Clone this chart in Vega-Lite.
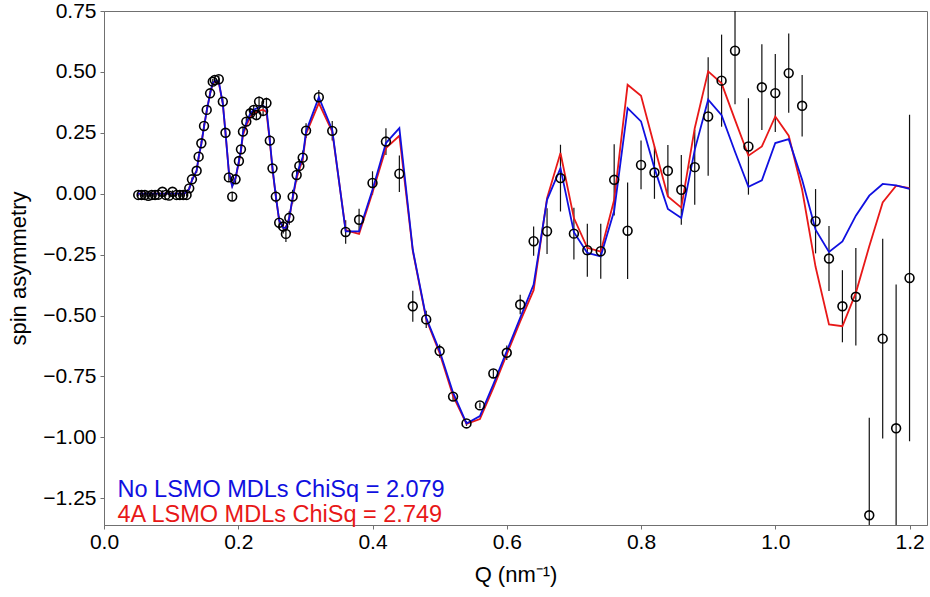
{
  "$schema": "https://vega.github.io/schema/vega-lite/v6.json",
  "width": 823,
  "height": 514,
  "autosize": {"type": "none"},
  "padding": {"left": 104, "top": 11, "right": 3, "bottom": 72},
  "background": "white",
  "config": {
    "font": "Liberation Sans",
    "view": {"stroke": "#707070", "strokeWidth": 1},
    "axis": {"grid": false, "domainColor": "#707070", "tickColor": "#707070", "labelColor": "black", "titleColor": "black", "labelFont": "Liberation Sans", "titleFont": "Liberation Sans", "titleFontWeight": "normal", "labelFontSize": 21, "titleFontSize": 22, "tickSize": 4, "labelFlush": false}
  },
  "datasets": {
    "obs": [
      {"Q": 0.051, "v": -0.005, "err": 0.006},
      {"Q": 0.056, "v": -0.005, "err": 0.006},
      {"Q": 0.061, "v": -0.005, "err": 0.006},
      {"Q": 0.066, "v": -0.009, "err": 0.006},
      {"Q": 0.071, "v": -0.005, "err": 0.006},
      {"Q": 0.076, "v": -0.005, "err": 0.006},
      {"Q": 0.081, "v": -0.004, "err": 0.006},
      {"Q": 0.087, "v": 0.008, "err": 0.006},
      {"Q": 0.092, "v": -0.005, "err": 0.006},
      {"Q": 0.097, "v": -0.008, "err": 0.006},
      {"Q": 0.102, "v": 0.008, "err": 0.006},
      {"Q": 0.108, "v": -0.005, "err": 0.006},
      {"Q": 0.113, "v": -0.005, "err": 0.006},
      {"Q": 0.118, "v": -0.005, "err": 0.006},
      {"Q": 0.123, "v": -0.005, "err": 0.007},
      {"Q": 0.127, "v": 0.022, "err": 0.008},
      {"Q": 0.131, "v": 0.059, "err": 0.008},
      {"Q": 0.138, "v": 0.094, "err": 0.009},
      {"Q": 0.141, "v": 0.152, "err": 0.009},
      {"Q": 0.145, "v": 0.207, "err": 0.01},
      {"Q": 0.149, "v": 0.278, "err": 0.01},
      {"Q": 0.153, "v": 0.344, "err": 0.011},
      {"Q": 0.158, "v": 0.412, "err": 0.012},
      {"Q": 0.162, "v": 0.46, "err": 0.012},
      {"Q": 0.165, "v": 0.467, "err": 0.013},
      {"Q": 0.171, "v": 0.47, "err": 0.014},
      {"Q": 0.177, "v": 0.378, "err": 0.014},
      {"Q": 0.181, "v": 0.25, "err": 0.015},
      {"Q": 0.186, "v": 0.067, "err": 0.016},
      {"Q": 0.191, "v": -0.012, "err": 0.017},
      {"Q": 0.196, "v": 0.059, "err": 0.017},
      {"Q": 0.201, "v": 0.134, "err": 0.018},
      {"Q": 0.204, "v": 0.182, "err": 0.018},
      {"Q": 0.207, "v": 0.255, "err": 0.019},
      {"Q": 0.212, "v": 0.296, "err": 0.019},
      {"Q": 0.218, "v": 0.33, "err": 0.02},
      {"Q": 0.223, "v": 0.344, "err": 0.02},
      {"Q": 0.227, "v": 0.323, "err": 0.021},
      {"Q": 0.231, "v": 0.378, "err": 0.021},
      {"Q": 0.237, "v": 0.34, "err": 0.022},
      {"Q": 0.242, "v": 0.372, "err": 0.022},
      {"Q": 0.247, "v": 0.218, "err": 0.023},
      {"Q": 0.251, "v": 0.104, "err": 0.024},
      {"Q": 0.256, "v": -0.012, "err": 0.025},
      {"Q": 0.261, "v": -0.119, "err": 0.026},
      {"Q": 0.267, "v": -0.135, "err": 0.028},
      {"Q": 0.271, "v": -0.165, "err": 0.033},
      {"Q": 0.276, "v": -0.099, "err": 0.028},
      {"Q": 0.281, "v": -0.012, "err": 0.028},
      {"Q": 0.287, "v": 0.077, "err": 0.028},
      {"Q": 0.291, "v": 0.114, "err": 0.028},
      {"Q": 0.296, "v": 0.148, "err": 0.029},
      {"Q": 0.301, "v": 0.259, "err": 0.03},
      {"Q": 0.32, "v": 0.396, "err": 0.03},
      {"Q": 0.34, "v": 0.258, "err": 0.04},
      {"Q": 0.36, "v": -0.157, "err": 0.048},
      {"Q": 0.38, "v": -0.107, "err": 0.045},
      {"Q": 0.40, "v": 0.044, "err": 0.048},
      {"Q": 0.42, "v": 0.214, "err": 0.055},
      {"Q": 0.44, "v": 0.082, "err": 0.075},
      {"Q": 0.46, "v": -0.462, "err": 0.064},
      {"Q": 0.48, "v": -0.516, "err": 0.035},
      {"Q": 0.50, "v": -0.646, "err": 0.027},
      {"Q": 0.52, "v": -0.833, "err": 0.017},
      {"Q": 0.54, "v": -0.943, "err": 0.01},
      {"Q": 0.56, "v": -0.869, "err": 0.012},
      {"Q": 0.58, "v": -0.738, "err": 0.015},
      {"Q": 0.60, "v": -0.653, "err": 0.03},
      {"Q": 0.62, "v": -0.455, "err": 0.04},
      {"Q": 0.64, "v": -0.195, "err": 0.06},
      {"Q": 0.66, "v": -0.154, "err": 0.094},
      {"Q": 0.68, "v": 0.064, "err": 0.137},
      {"Q": 0.70, "v": -0.164, "err": 0.106},
      {"Q": 0.72, "v": -0.232, "err": 0.109},
      {"Q": 0.74, "v": -0.236, "err": 0.113},
      {"Q": 0.76, "v": 0.057, "err": 0.146},
      {"Q": 0.78, "v": -0.152, "err": 0.198},
      {"Q": 0.80, "v": 0.118, "err": 0.1},
      {"Q": 0.82, "v": 0.087, "err": 0.108},
      {"Q": 0.84, "v": 0.094, "err": 0.106},
      {"Q": 0.86, "v": 0.016, "err": 0.143},
      {"Q": 0.88, "v": 0.109, "err": 0.154},
      {"Q": 0.90, "v": 0.317, "err": 0.243},
      {"Q": 0.92, "v": 0.464, "err": 0.189},
      {"Q": 0.94, "v": 0.587, "err": 0.22},
      {"Q": 0.96, "v": 0.194, "err": 0.198},
      {"Q": 0.98, "v": 0.437, "err": 0.176},
      {"Q": 1.00, "v": 0.413, "err": 0.16},
      {"Q": 1.02, "v": 0.495, "err": 0.163},
      {"Q": 1.04, "v": 0.361, "err": 0.126},
      {"Q": 1.06, "v": -0.113, "err": 0.132},
      {"Q": 1.08, "v": -0.266, "err": 0.133},
      {"Q": 1.10, "v": -0.462, "err": 0.148},
      {"Q": 1.12, "v": -0.423, "err": 0.2},
      {"Q": 1.14, "v": -1.32, "err": 0.4},
      {"Q": 1.16, "v": -0.595, "err": 0.41},
      {"Q": 1.18, "v": -0.963, "err": 0.59},
      {"Q": 1.20, "v": -0.346, "err": 0.67}
    ],
    "fits": [
      {"model": "4A LSMO MDLs ChiSq = 2.749", "Q": 0.05, "v": 0.0},
      {"model": "4A LSMO MDLs ChiSq = 2.749", "Q": 0.12, "v": 0.0},
      {"model": "4A LSMO MDLs ChiSq = 2.749", "Q": 0.127, "v": 0.02},
      {"model": "4A LSMO MDLs ChiSq = 2.749", "Q": 0.131, "v": 0.055},
      {"model": "4A LSMO MDLs ChiSq = 2.749", "Q": 0.138, "v": 0.095},
      {"model": "4A LSMO MDLs ChiSq = 2.749", "Q": 0.141, "v": 0.15},
      {"model": "4A LSMO MDLs ChiSq = 2.749", "Q": 0.145, "v": 0.205},
      {"model": "4A LSMO MDLs ChiSq = 2.749", "Q": 0.149, "v": 0.275},
      {"model": "4A LSMO MDLs ChiSq = 2.749", "Q": 0.153, "v": 0.34},
      {"model": "4A LSMO MDLs ChiSq = 2.749", "Q": 0.158, "v": 0.41},
      {"model": "4A LSMO MDLs ChiSq = 2.749", "Q": 0.162, "v": 0.452},
      {"model": "4A LSMO MDLs ChiSq = 2.749", "Q": 0.166, "v": 0.462},
      {"model": "4A LSMO MDLs ChiSq = 2.749", "Q": 0.171, "v": 0.455},
      {"model": "4A LSMO MDLs ChiSq = 2.749", "Q": 0.177, "v": 0.37},
      {"model": "4A LSMO MDLs ChiSq = 2.749", "Q": 0.181, "v": 0.25},
      {"model": "4A LSMO MDLs ChiSq = 2.749", "Q": 0.186, "v": 0.09},
      {"model": "4A LSMO MDLs ChiSq = 2.749", "Q": 0.191, "v": 0.032},
      {"model": "4A LSMO MDLs ChiSq = 2.749", "Q": 0.196, "v": 0.065},
      {"model": "4A LSMO MDLs ChiSq = 2.749", "Q": 0.201, "v": 0.13},
      {"model": "4A LSMO MDLs ChiSq = 2.749", "Q": 0.204, "v": 0.175},
      {"model": "4A LSMO MDLs ChiSq = 2.749", "Q": 0.207, "v": 0.24},
      {"model": "4A LSMO MDLs ChiSq = 2.749", "Q": 0.212, "v": 0.28},
      {"model": "4A LSMO MDLs ChiSq = 2.749", "Q": 0.218, "v": 0.315},
      {"model": "4A LSMO MDLs ChiSq = 2.749", "Q": 0.223, "v": 0.33},
      {"model": "4A LSMO MDLs ChiSq = 2.749", "Q": 0.231, "v": 0.34},
      {"model": "4A LSMO MDLs ChiSq = 2.749", "Q": 0.237, "v": 0.345},
      {"model": "4A LSMO MDLs ChiSq = 2.749", "Q": 0.242, "v": 0.335},
      {"model": "4A LSMO MDLs ChiSq = 2.749", "Q": 0.247, "v": 0.215},
      {"model": "4A LSMO MDLs ChiSq = 2.749", "Q": 0.251, "v": 0.1},
      {"model": "4A LSMO MDLs ChiSq = 2.749", "Q": 0.256, "v": -0.012},
      {"model": "4A LSMO MDLs ChiSq = 2.749", "Q": 0.261, "v": -0.11},
      {"model": "4A LSMO MDLs ChiSq = 2.749", "Q": 0.267, "v": -0.138},
      {"model": "4A LSMO MDLs ChiSq = 2.749", "Q": 0.271, "v": -0.14},
      {"model": "4A LSMO MDLs ChiSq = 2.749", "Q": 0.276, "v": -0.1},
      {"model": "4A LSMO MDLs ChiSq = 2.749", "Q": 0.281, "v": -0.02},
      {"model": "4A LSMO MDLs ChiSq = 2.749", "Q": 0.287, "v": 0.065},
      {"model": "4A LSMO MDLs ChiSq = 2.749", "Q": 0.291, "v": 0.1},
      {"model": "4A LSMO MDLs ChiSq = 2.749", "Q": 0.296, "v": 0.14},
      {"model": "4A LSMO MDLs ChiSq = 2.749", "Q": 0.301, "v": 0.245},
      {"model": "4A LSMO MDLs ChiSq = 2.749", "Q": 0.32, "v": 0.372},
      {"model": "4A LSMO MDLs ChiSq = 2.749", "Q": 0.34, "v": 0.255},
      {"model": "4A LSMO MDLs ChiSq = 2.749", "Q": 0.36, "v": -0.15},
      {"model": "4A LSMO MDLs ChiSq = 2.749", "Q": 0.38, "v": -0.165},
      {"model": "4A LSMO MDLs ChiSq = 2.749", "Q": 0.40, "v": 0.005},
      {"model": "4A LSMO MDLs ChiSq = 2.749", "Q": 0.42, "v": 0.187},
      {"model": "4A LSMO MDLs ChiSq = 2.749", "Q": 0.44, "v": 0.238},
      {"model": "4A LSMO MDLs ChiSq = 2.749", "Q": 0.46, "v": -0.235},
      {"model": "4A LSMO MDLs ChiSq = 2.749", "Q": 0.48, "v": -0.515},
      {"model": "4A LSMO MDLs ChiSq = 2.749", "Q": 0.50, "v": -0.655},
      {"model": "4A LSMO MDLs ChiSq = 2.749", "Q": 0.52, "v": -0.83},
      {"model": "4A LSMO MDLs ChiSq = 2.749", "Q": 0.54, "v": -0.945},
      {"model": "4A LSMO MDLs ChiSq = 2.749", "Q": 0.56, "v": -0.925},
      {"model": "4A LSMO MDLs ChiSq = 2.749", "Q": 0.58, "v": -0.797},
      {"model": "4A LSMO MDLs ChiSq = 2.749", "Q": 0.60, "v": -0.66},
      {"model": "4A LSMO MDLs ChiSq = 2.749", "Q": 0.62, "v": -0.524},
      {"model": "4A LSMO MDLs ChiSq = 2.749", "Q": 0.64, "v": -0.396},
      {"model": "4A LSMO MDLs ChiSq = 2.749", "Q": 0.66, "v": -0.018},
      {"model": "4A LSMO MDLs ChiSq = 2.749", "Q": 0.68, "v": 0.167},
      {"model": "4A LSMO MDLs ChiSq = 2.749", "Q": 0.70, "v": -0.1},
      {"model": "4A LSMO MDLs ChiSq = 2.749", "Q": 0.72, "v": -0.222},
      {"model": "4A LSMO MDLs ChiSq = 2.749", "Q": 0.74, "v": -0.238},
      {"model": "4A LSMO MDLs ChiSq = 2.749", "Q": 0.76, "v": -0.025},
      {"model": "4A LSMO MDLs ChiSq = 2.749", "Q": 0.78, "v": 0.447},
      {"model": "4A LSMO MDLs ChiSq = 2.749", "Q": 0.80, "v": 0.402},
      {"model": "4A LSMO MDLs ChiSq = 2.749", "Q": 0.82, "v": 0.194},
      {"model": "4A LSMO MDLs ChiSq = 2.749", "Q": 0.84, "v": -0.011},
      {"model": "4A LSMO MDLs ChiSq = 2.749", "Q": 0.86, "v": -0.057},
      {"model": "4A LSMO MDLs ChiSq = 2.749", "Q": 0.88, "v": 0.269},
      {"model": "4A LSMO MDLs ChiSq = 2.749", "Q": 0.90, "v": 0.502},
      {"model": "4A LSMO MDLs ChiSq = 2.749", "Q": 0.92, "v": 0.453},
      {"model": "4A LSMO MDLs ChiSq = 2.749", "Q": 0.94, "v": 0.303},
      {"model": "4A LSMO MDLs ChiSq = 2.749", "Q": 0.96, "v": 0.156},
      {"model": "4A LSMO MDLs ChiSq = 2.749", "Q": 0.98, "v": 0.194},
      {"model": "4A LSMO MDLs ChiSq = 2.749", "Q": 1.00, "v": 0.317},
      {"model": "4A LSMO MDLs ChiSq = 2.749", "Q": 1.02, "v": 0.238},
      {"model": "4A LSMO MDLs ChiSq = 2.749", "Q": 1.04, "v": 0.016},
      {"model": "4A LSMO MDLs ChiSq = 2.749", "Q": 1.06, "v": -0.3},
      {"model": "4A LSMO MDLs ChiSq = 2.749", "Q": 1.08, "v": -0.537},
      {"model": "4A LSMO MDLs ChiSq = 2.749", "Q": 1.10, "v": -0.544},
      {"model": "4A LSMO MDLs ChiSq = 2.749", "Q": 1.12, "v": -0.407},
      {"model": "4A LSMO MDLs ChiSq = 2.749", "Q": 1.14, "v": -0.216},
      {"model": "4A LSMO MDLs ChiSq = 2.749", "Q": 1.16, "v": -0.036},
      {"model": "4A LSMO MDLs ChiSq = 2.749", "Q": 1.18, "v": 0.033},
      {"model": "4A LSMO MDLs ChiSq = 2.749", "Q": 1.20, "v": 0.023},
      {"model": "No LSMO MDLs ChiSq = 2.079", "Q": 0.05, "v": 0.0},
      {"model": "No LSMO MDLs ChiSq = 2.079", "Q": 0.12, "v": 0.0},
      {"model": "No LSMO MDLs ChiSq = 2.079", "Q": 0.127, "v": 0.02},
      {"model": "No LSMO MDLs ChiSq = 2.079", "Q": 0.131, "v": 0.055},
      {"model": "No LSMO MDLs ChiSq = 2.079", "Q": 0.138, "v": 0.095},
      {"model": "No LSMO MDLs ChiSq = 2.079", "Q": 0.141, "v": 0.15},
      {"model": "No LSMO MDLs ChiSq = 2.079", "Q": 0.145, "v": 0.205},
      {"model": "No LSMO MDLs ChiSq = 2.079", "Q": 0.149, "v": 0.275},
      {"model": "No LSMO MDLs ChiSq = 2.079", "Q": 0.153, "v": 0.34},
      {"model": "No LSMO MDLs ChiSq = 2.079", "Q": 0.158, "v": 0.41},
      {"model": "No LSMO MDLs ChiSq = 2.079", "Q": 0.162, "v": 0.455},
      {"model": "No LSMO MDLs ChiSq = 2.079", "Q": 0.166, "v": 0.465},
      {"model": "No LSMO MDLs ChiSq = 2.079", "Q": 0.171, "v": 0.46},
      {"model": "No LSMO MDLs ChiSq = 2.079", "Q": 0.177, "v": 0.37},
      {"model": "No LSMO MDLs ChiSq = 2.079", "Q": 0.181, "v": 0.25},
      {"model": "No LSMO MDLs ChiSq = 2.079", "Q": 0.186, "v": 0.09},
      {"model": "No LSMO MDLs ChiSq = 2.079", "Q": 0.191, "v": 0.03},
      {"model": "No LSMO MDLs ChiSq = 2.079", "Q": 0.196, "v": 0.065},
      {"model": "No LSMO MDLs ChiSq = 2.079", "Q": 0.201, "v": 0.135},
      {"model": "No LSMO MDLs ChiSq = 2.079", "Q": 0.204, "v": 0.18},
      {"model": "No LSMO MDLs ChiSq = 2.079", "Q": 0.207, "v": 0.25},
      {"model": "No LSMO MDLs ChiSq = 2.079", "Q": 0.212, "v": 0.29},
      {"model": "No LSMO MDLs ChiSq = 2.079", "Q": 0.218, "v": 0.33},
      {"model": "No LSMO MDLs ChiSq = 2.079", "Q": 0.223, "v": 0.345},
      {"model": "No LSMO MDLs ChiSq = 2.079", "Q": 0.231, "v": 0.355},
      {"model": "No LSMO MDLs ChiSq = 2.079", "Q": 0.237, "v": 0.362},
      {"model": "No LSMO MDLs ChiSq = 2.079", "Q": 0.242, "v": 0.35},
      {"model": "No LSMO MDLs ChiSq = 2.079", "Q": 0.247, "v": 0.22},
      {"model": "No LSMO MDLs ChiSq = 2.079", "Q": 0.251, "v": 0.105},
      {"model": "No LSMO MDLs ChiSq = 2.079", "Q": 0.256, "v": -0.01},
      {"model": "No LSMO MDLs ChiSq = 2.079", "Q": 0.261, "v": -0.11},
      {"model": "No LSMO MDLs ChiSq = 2.079", "Q": 0.267, "v": -0.14},
      {"model": "No LSMO MDLs ChiSq = 2.079", "Q": 0.271, "v": -0.14},
      {"model": "No LSMO MDLs ChiSq = 2.079", "Q": 0.276, "v": -0.1},
      {"model": "No LSMO MDLs ChiSq = 2.079", "Q": 0.281, "v": -0.015},
      {"model": "No LSMO MDLs ChiSq = 2.079", "Q": 0.287, "v": 0.075},
      {"model": "No LSMO MDLs ChiSq = 2.079", "Q": 0.291, "v": 0.11},
      {"model": "No LSMO MDLs ChiSq = 2.079", "Q": 0.296, "v": 0.15},
      {"model": "No LSMO MDLs ChiSq = 2.079", "Q": 0.301, "v": 0.255},
      {"model": "No LSMO MDLs ChiSq = 2.079", "Q": 0.32, "v": 0.396},
      {"model": "No LSMO MDLs ChiSq = 2.079", "Q": 0.34, "v": 0.262},
      {"model": "No LSMO MDLs ChiSq = 2.079", "Q": 0.36, "v": -0.155},
      {"model": "No LSMO MDLs ChiSq = 2.079", "Q": 0.38, "v": -0.155},
      {"model": "No LSMO MDLs ChiSq = 2.079", "Q": 0.40, "v": 0.016},
      {"model": "No LSMO MDLs ChiSq = 2.079", "Q": 0.42, "v": 0.208},
      {"model": "No LSMO MDLs ChiSq = 2.079", "Q": 0.44, "v": 0.269},
      {"model": "No LSMO MDLs ChiSq = 2.079", "Q": 0.46, "v": -0.23},
      {"model": "No LSMO MDLs ChiSq = 2.079", "Q": 0.48, "v": -0.51},
      {"model": "No LSMO MDLs ChiSq = 2.079", "Q": 0.50, "v": -0.646},
      {"model": "No LSMO MDLs ChiSq = 2.079", "Q": 0.52, "v": -0.817},
      {"model": "No LSMO MDLs ChiSq = 2.079", "Q": 0.54, "v": -0.943},
      {"model": "No LSMO MDLs ChiSq = 2.079", "Q": 0.56, "v": -0.913},
      {"model": "No LSMO MDLs ChiSq = 2.079", "Q": 0.58, "v": -0.783},
      {"model": "No LSMO MDLs ChiSq = 2.079", "Q": 0.60, "v": -0.646},
      {"model": "No LSMO MDLs ChiSq = 2.079", "Q": 0.62, "v": -0.51},
      {"model": "No LSMO MDLs ChiSq = 2.079", "Q": 0.64, "v": -0.373},
      {"model": "No LSMO MDLs ChiSq = 2.079", "Q": 0.66, "v": -0.025},
      {"model": "No LSMO MDLs ChiSq = 2.079", "Q": 0.68, "v": 0.105},
      {"model": "No LSMO MDLs ChiSq = 2.079", "Q": 0.70, "v": -0.158},
      {"model": "No LSMO MDLs ChiSq = 2.079", "Q": 0.72, "v": -0.243},
      {"model": "No LSMO MDLs ChiSq = 2.079", "Q": 0.74, "v": -0.257},
      {"model": "No LSMO MDLs ChiSq = 2.079", "Q": 0.76, "v": -0.07},
      {"model": "No LSMO MDLs ChiSq = 2.079", "Q": 0.78, "v": 0.351},
      {"model": "No LSMO MDLs ChiSq = 2.079", "Q": 0.80, "v": 0.297},
      {"model": "No LSMO MDLs ChiSq = 2.079", "Q": 0.82, "v": 0.105},
      {"model": "No LSMO MDLs ChiSq = 2.079", "Q": 0.84, "v": -0.063},
      {"model": "No LSMO MDLs ChiSq = 2.079", "Q": 0.86, "v": -0.1},
      {"model": "No LSMO MDLs ChiSq = 2.079", "Q": 0.88, "v": 0.18},
      {"model": "No LSMO MDLs ChiSq = 2.079", "Q": 0.90, "v": 0.386},
      {"model": "No LSMO MDLs ChiSq = 2.079", "Q": 0.92, "v": 0.322},
      {"model": "No LSMO MDLs ChiSq = 2.079", "Q": 0.94, "v": 0.172},
      {"model": "No LSMO MDLs ChiSq = 2.079", "Q": 0.96, "v": 0.028},
      {"model": "No LSMO MDLs ChiSq = 2.079", "Q": 0.98, "v": 0.055},
      {"model": "No LSMO MDLs ChiSq = 2.079", "Q": 1.00, "v": 0.208},
      {"model": "No LSMO MDLs ChiSq = 2.079", "Q": 1.02, "v": 0.224},
      {"model": "No LSMO MDLs ChiSq = 2.079", "Q": 1.04, "v": 0.057},
      {"model": "No LSMO MDLs ChiSq = 2.079", "Q": 1.06, "v": -0.148},
      {"model": "No LSMO MDLs ChiSq = 2.079", "Q": 1.08, "v": -0.239},
      {"model": "No LSMO MDLs ChiSq = 2.079", "Q": 1.10, "v": -0.196},
      {"model": "No LSMO MDLs ChiSq = 2.079", "Q": 1.12, "v": -0.09},
      {"model": "No LSMO MDLs ChiSq = 2.079", "Q": 1.14, "v": -0.008},
      {"model": "No LSMO MDLs ChiSq = 2.079", "Q": 1.16, "v": 0.04},
      {"model": "No LSMO MDLs ChiSq = 2.079", "Q": 1.18, "v": 0.034},
      {"model": "No LSMO MDLs ChiSq = 2.079", "Q": 1.20, "v": 0.02}
    ]
  },
  "layer": [
    {
      "data": {"name": "obs"},
      "mark": {"type": "errorbar", "color": "#111111", "thickness": 1.2, "clip": true},
      "encoding": {
        "x": {"field": "Q", "type": "quantitative", "scale": {"domain": [0, 1.226], "nice": false, "zero": false},
          "axis": {"values": [0, 0.2, 0.4, 0.6, 0.8, 1.0, 1.2], "format": ".1f", "title": "Q (nm⁻¹)", "titlePadding": 12, "labelPadding": 2}},
        "y": {"field": "v", "type": "quantitative", "scale": {"domain": [-1.36, 0.75], "nice": false, "zero": false},
          "axis": {"values": [-1.25, -1.0, -0.75, -0.5, -0.25, 0, 0.25, 0.5, 0.75], "format": ".2f", "title": "spin asymmetry", "titlePadding": 12, "labelPadding": 4}},
        "yError": {"field": "err"}
      }
    },
    {
      "data": {"name": "fits"},
      "mark": {"type": "line", "strokeWidth": 1.8, "clip": true},
      "encoding": {
        "x": {"field": "Q", "type": "quantitative"},
        "y": {"field": "v", "type": "quantitative"},
        "color": {"field": "model", "type": "nominal",
          "scale": {"domain": ["No LSMO MDLs ChiSq = 2.079", "4A LSMO MDLs ChiSq = 2.749"], "range": ["#1010e0", "#e81818"]},
          "legend": {"title": null, "orient": "none", "legendX": -10, "legendY": 467, "padding": 0, "symbolSize": 0, "symbolOpacity": 0, "symbolStrokeWidth": 0, "labelOffset": 0, "labelFontSize": 23.5, "labelLimit": 0, "rowPadding": 0,
            "encode": {"labels": {"update": {"fill": {"scale": "color", "field": "value"}}}}}
        },
        "order": {"field": "model", "sort": "ascending"}
      }
    },
    {
      "data": {"name": "obs"},
      "mark": {"type": "point", "shape": "circle", "filled": false, "size": 78, "strokeWidth": 1.6, "color": "black", "opacity": 1, "clip": true},
      "encoding": {
        "x": {"field": "Q", "type": "quantitative"},
        "y": {"field": "v", "type": "quantitative"}
      }
    },
    {
      "mark": {"type": "text", "fontSize": 24, "align": "center", "baseline": "middle", "color": "black"},
      "encoding": {
        "x": {"datum": 1.086},
        "y": {"datum": 0.573},
        "text": {"value": "150K"}
      }
    }
  ]
}
